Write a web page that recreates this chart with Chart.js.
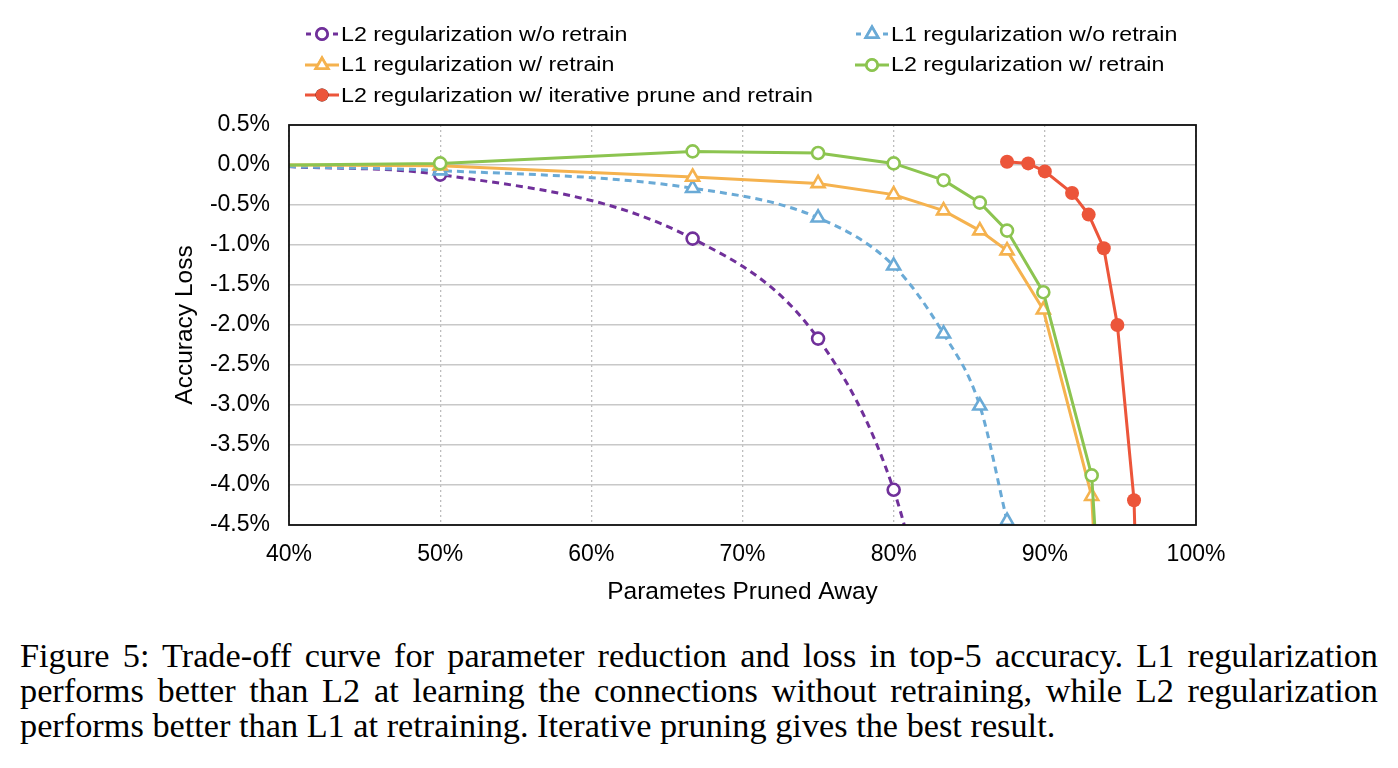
<!DOCTYPE html>
<html><head><meta charset="utf-8">
<script src="https://cdn.jsdelivr.net/npm/chart.js@4.4.1/dist/chart.umd.min.js"></script>
<style>
html,body{margin:0;padding:0;background:#fff;width:1398px;height:768px;overflow:hidden;}
#wrap{position:absolute;left:0;top:0;width:1398px;height:620px;}
#legend{position:absolute;left:305px;top:19px;display:grid;grid-template-columns:550px 420px;font-family:"Liberation Sans",Arial,sans-serif;font-size:20px;color:#000;}
.item{height:30.5px;display:flex;align-items:center;}
.item canvas{width:34px;height:20px;margin-right:2px;}
.item span{display:inline-block;transform:scaleX(1.16);transform-origin:left center;white-space:nowrap;}
#caption{position:absolute;left:20px;top:638px;width:1358px;font-family:"Liberation Serif","Times New Roman",serif;font-size:34.3px;line-height:35px;color:#000;}
#caption div{text-align:justify;white-space:nowrap;}
#caption div.j{text-align-last:justify;}
</style></head>
<body>
<div id="wrap"><canvas id="c"></canvas></div>
<div id="legend"></div>
<div id="caption">
<div class="j">Figure 5: Trade-off curve for parameter reduction and loss in top-5 accuracy. L1 regularization</div>
<div class="j">performs better than L2 at learning the connections without retraining, while L2 regularization</div>
<div>performs better than L1 at retraining. Iterative pruning gives the best result.</div>
</div>
<script>
// ---- data ----
const seriesLabels = [
  "L2 regularization w/o retrain",
  "L1 regularization w/o retrain",
  "L1 regularization w/ retrain",
  "L2 regularization w/ retrain",
  "L2 regularization w/ iterative prune and retrain"
];
const pctL2NoRetrain  = [40, 50, 66.7, 75, 80, 83.3];
const lossL2NoRetrain = [-0.02, -0.12, -0.92, -2.17, -4.06, -6.5];
const pctL1NoRetrain  = [40, 50, 66.7, 75, 80, 83.3, 85.7, 87.5];
const lossL1NoRetrain = [-0.02, -0.07, -0.29, -0.66, -1.26, -2.11, -3.01, -4.45];
const pctL1Retrain    = [40, 50, 66.7, 75, 80, 83.3, 85.7, 87.5, 89.9, 93.1, 94.1];
const lossL1Retrain   = [0, -0.01, -0.15, -0.23, -0.37, -0.57, -0.82, -1.07, -1.81, -4.14, -7.7];
const pctL2Retrain    = [40, 50, 66.7, 75, 80, 83.3, 85.7, 87.5, 89.9, 93.1, 94.1];
const lossL2Retrain   = [0, 0.02, 0.17, 0.15, 0.02, -0.19, -0.47, -0.82, -1.59, -3.88, -7.0];
const pctIterative    = [87.5, 88.9, 90.0, 91.8, 92.9, 93.9, 94.8, 95.9, 96.5];
const lossIterative   = [0.04, 0.02, -0.08, -0.35, -0.62, -1.04, -2.0, -4.19, -8.2];
const xTicks = [40, 50, 60, 70, 80, 90, 100];
const yTicks = [0.5, 0.0, -0.5, -1.0, -1.5, -2.0, -2.5, -3.0, -3.5, -4.0, -4.5];

const toPts = (xs, ys) => xs.map((x, i) => ({x: x, y: ys[i]}));
const colors = ['#70309A', '#6AAAD6', '#F5B24E', '#8CC450', '#EC553A'];
const rad = ctx => (ctx.raw && ctx.raw.x <= 40) ? 0 : undefined;

function ds(i, xs, ys, opts) {
  return Object.assign({
    label: seriesLabels[i],
    data: toPts(xs, ys),
    borderColor: colors[i],
    pointBorderColor: colors[i],
    pointBackgroundColor: '#ffffff',
    borderWidth: 3,
    pointBorderWidth: 2.6,
    tension: 0,
    clip: {left: 10, right: 10, top: 10, bottom: 0}
  }, opts);
}
const datasets = [
  ds(0, pctL2NoRetrain, lossL2NoRetrain, {borderDash: [7, 5], cubicInterpolationMode: 'monotone', pointStyle: 'circle', pointRadius: c => rad(c) ?? 6, order: 5}),
  ds(1, pctL1NoRetrain, lossL1NoRetrain, {borderDash: [7, 5], cubicInterpolationMode: 'monotone', pointStyle: 'triangle', pointRadius: c => rad(c) ?? 7.5, order: 4}),
  ds(2, pctL1Retrain, lossL1Retrain, {pointStyle: 'triangle', pointRadius: c => rad(c) ?? 7.5, order: 3}),
  ds(3, pctL2Retrain, lossL2Retrain, {pointStyle: 'circle', pointRadius: c => rad(c) ?? 6, order: 2}),
  ds(4, pctIterative, lossIterative, {pointStyle: 'circle', pointRadius: 7, pointBorderWidth: 0, pointBackgroundColor: colors[4], order: 1})
];

const frame = {
  id: 'frame',
  afterDatasetsDraw(chart) {
    const a = chart.chartArea, ctx = chart.ctx;
    ctx.save();
    ctx.strokeStyle = '#111';
    ctx.lineWidth = 1.8;
    ctx.strokeRect(a.left, a.top, a.right - a.left, a.bottom - a.top);
    ctx.restore();
  }
};

const tickFont = {family: '"Liberation Sans", Arial, sans-serif', size: 23};
const titleFont = {family: '"Liberation Sans", Arial, sans-serif', size: 24.5};

const chart = new Chart(document.getElementById('c'), {
  type: 'line',
  data: {datasets: datasets},
  options: {
    responsive: true,
    maintainAspectRatio: false,
    animation: false,
    events: [],
    layout: {padding: {top: 125, right: 202, left: 171, bottom: 13.5}},
    plugins: {legend: {display: false}, tooltip: {enabled: false}},
    scales: {
      x: {
        type: 'linear', min: 40, max: 100,
        afterBuildTicks: s => { s.ticks = xTicks.map(v => ({value: v})); },
        afterFit: s => { s.height = 81.5; },
        ticks: {font: tickFont, color: '#000', padding: 15.5, callback: v => v + '%', maxRotation: 0},
        grid: {color: '#bdbdbd', lineWidth: 1.3, drawTicks: false},
        border: {display: false, dash: [2, 3]},
        title: {display: true, text: 'Parametes Pruned Away', font: titleFont, color: '#000', padding: 0}
      },
      y: {
        type: 'linear', min: -4.5, max: 0.5,
        afterBuildTicks: s => { s.ticks = yTicks.map(v => ({value: v})); },
        afterFit: s => { s.width = 118; },
        ticks: {font: tickFont, color: '#000', padding: 19, callback: v => v.toFixed(1) + '%'},
        grid: {color: '#c8c8c8', lineWidth: 1.6, drawTicks: false},
        border: {display: false},
        title: {display: true, text: 'Accuracy Loss', font: titleFont, color: '#000', padding: 0}
      }
    }
  },
  plugins: [frame]
});

// ---- HTML legend built from the datasets ----
const legend = document.getElementById('legend');
chart.data.datasets.forEach((d, i) => {
  const item = document.createElement('div');
  item.className = 'item';
  const cv = document.createElement('canvas');
  const dpr = window.devicePixelRatio || 1;
  cv.width = 34 * dpr; cv.height = 20 * dpr;
  const g = cv.getContext('2d');
  g.scale(dpr, dpr);
  g.strokeStyle = d.borderColor; g.lineWidth = 3;
  if (d.borderDash) {
    g.beginPath(); g.moveTo(1, 10); g.lineTo(6, 10); g.moveTo(28, 10); g.lineTo(33, 10); g.stroke();
  } else {
    g.beginPath(); g.moveTo(0, 10); g.lineTo(34, 10); g.stroke();
  }
  const isFilled = d.pointBorderWidth === 0;
  const r = d.pointStyle === 'triangle' ? 7 : (isFilled ? 6.5 : 5.5);
  Chart.helpers.drawPoint(g, {pointStyle: d.pointStyle, radius: r, rotation: 0, borderWidth: isFilled ? 0 : 2.5}, 17, 10);
  g.fillStyle = d.pointBackgroundColor; g.fill();
  if (!isFilled) { g.strokeStyle = d.pointBorderColor; g.lineWidth = 2.5; g.stroke(); }
  item.appendChild(cv);
  const sp = document.createElement('span');
  sp.textContent = d.label;
  item.appendChild(sp);
  legend.appendChild(item);
});
</script>
</body></html>
